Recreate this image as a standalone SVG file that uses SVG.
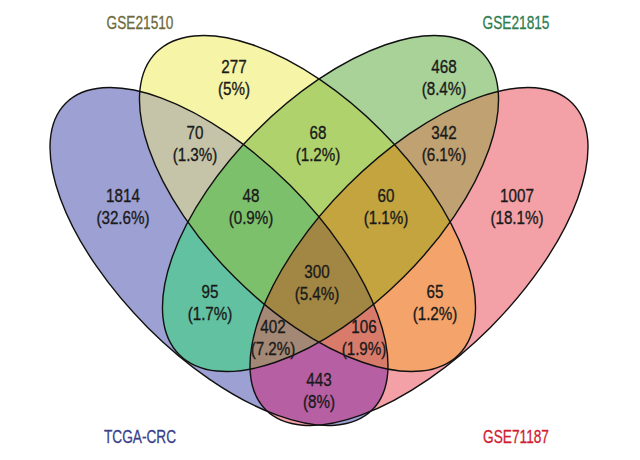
<svg xmlns="http://www.w3.org/2000/svg" xmlns:xlink="http://www.w3.org/1999/xlink" width="640" height="460" viewBox="0 0 640 460">
<defs>
<ellipse id="eA" cx="219" cy="256.5" rx="216.8" ry="100.6" transform="rotate(45 219 256.5)"/>
<ellipse id="eB" cx="307.5" cy="203.5" rx="213.8" ry="103.7" transform="rotate(45 307.5 203.5)"/>
<ellipse id="eC" cx="330.5" cy="203.5" rx="213.8" ry="103.7" transform="rotate(-45 330.5 203.5)"/>
<ellipse id="eD" cx="419" cy="256.5" rx="216.8" ry="100.6" transform="rotate(-45 419 256.5)"/>
<clipPath id="cA"><use xlink:href="#eA"/></clipPath>
<clipPath id="cB"><use xlink:href="#eB"/></clipPath>
<clipPath id="cC"><use xlink:href="#eC"/></clipPath>
<clipPath id="cD"><use xlink:href="#eD"/></clipPath>
</defs>
<style>
.outline{fill:none;stroke:#111;stroke-width:1.4}
.num{font-family:"Liberation Sans",Arial,sans-serif;font-size:19px;fill:#1a1a1a;stroke:#1a1a1a;stroke-width:0.35;text-anchor:middle}
.title{font-family:"Liberation Sans",Arial,sans-serif;font-size:19px;text-anchor:middle;stroke-width:0.3}
</style>
<rect width="640" height="460" fill="#fff"/>
<g id="regions">
<use xlink:href="#eA" fill="#9DA0D2"/>
<use xlink:href="#eB" fill="#F6F4A6"/>
<use xlink:href="#eC" fill="#A8D298"/>
<use xlink:href="#eD" fill="#F3A0A6"/>
<g clip-path="url(#cA)"><use xlink:href="#eB" fill="#C6C4A8"/></g>
<g clip-path="url(#cA)"><use xlink:href="#eC" fill="#62C1A1"/></g>
<g clip-path="url(#cA)"><use xlink:href="#eD" fill="#B65FA3"/></g>
<g clip-path="url(#cB)"><use xlink:href="#eC" fill="#AFD26C"/></g>
<g clip-path="url(#cB)"><use xlink:href="#eD" fill="#F4A36A"/></g>
<g clip-path="url(#cC)"><use xlink:href="#eD" fill="#BFA172"/></g>
<g clip-path="url(#cA)"><g clip-path="url(#cB)"><use xlink:href="#eC" fill="#7DC06C"/></g></g>
<g clip-path="url(#cA)"><g clip-path="url(#cB)"><use xlink:href="#eD" fill="#D97B6B"/></g></g>
<g clip-path="url(#cA)"><g clip-path="url(#cC)"><use xlink:href="#eD" fill="#A38875"/></g></g>
<g clip-path="url(#cB)"><g clip-path="url(#cC)"><use xlink:href="#eD" fill="#C3A43F"/></g></g>
<g clip-path="url(#cA)"><g clip-path="url(#cB)"><g clip-path="url(#cC)"><use xlink:href="#eD" fill="#A28643"/></g></g></g>
</g>
<g id="set-TCGA-CRC"><use xlink:href="#eA" class="outline"/>
<g transform="translate(140 0) scale(0.72 1)"><text class="title" x="0" y="443" fill="#3A3F8A" stroke="#3A3F8A">TCGA-CRC</text></g></g>
<g id="set-GSE21510"><use xlink:href="#eB" class="outline"/>
<g transform="translate(140 0) scale(0.72 1)"><text class="title" x="0" y="29" fill="#6E6A3A" stroke="#6E6A3A">GSE21510</text></g></g>
<g id="set-GSE21815"><use xlink:href="#eC" class="outline"/>
<g transform="translate(516 0) scale(0.72 1)"><text class="title" x="0" y="29" fill="#2E7D4F" stroke="#2E7D4F">GSE21815</text></g></g>
<g id="set-GSE71187"><use xlink:href="#eD" class="outline"/>
<g transform="translate(516 0) scale(0.72 1)"><text class="title" x="0" y="443" fill="#D0202F" stroke="#D0202F">GSE71187</text></g></g>
<g id="labels">
<g transform="translate(234 0) scale(0.8 1)"><text class="num" x="0" y="73">277</text><text class="num" x="0" y="95">(5%)</text></g>
<g transform="translate(444 0) scale(0.8 1)"><text class="num" x="0" y="73">468</text><text class="num" x="0" y="95">(8.4%)</text></g>
<g transform="translate(195 0) scale(0.8 1)"><text class="num" x="0" y="139">70</text><text class="num" x="0" y="161">(1.3%)</text></g>
<g transform="translate(318 0) scale(0.8 1)"><text class="num" x="0" y="139">68</text><text class="num" x="0" y="161">(1.2%)</text></g>
<g transform="translate(444 0) scale(0.8 1)"><text class="num" x="0" y="139">342</text><text class="num" x="0" y="161">(6.1%)</text></g>
<g transform="translate(123 0) scale(0.8 1)"><text class="num" x="0" y="202">1814</text><text class="num" x="0" y="224">(32.6%)</text></g>
<g transform="translate(251 0) scale(0.8 1)"><text class="num" x="0" y="202">48</text><text class="num" x="0" y="224">(0.9%)</text></g>
<g transform="translate(386 0) scale(0.8 1)"><text class="num" x="0" y="202">60</text><text class="num" x="0" y="224">(1.1%)</text></g>
<g transform="translate(517 0) scale(0.8 1)"><text class="num" x="0" y="202">1007</text><text class="num" x="0" y="224">(18.1%)</text></g>
<g transform="translate(317 0) scale(0.8 1)"><text class="num" x="0" y="278">300</text><text class="num" x="0" y="300">(5.4%)</text></g>
<g transform="translate(210 0) scale(0.8 1)"><text class="num" x="0" y="298">95</text><text class="num" x="0" y="320">(1.7%)</text></g>
<g transform="translate(435 0) scale(0.8 1)"><text class="num" x="0" y="298">65</text><text class="num" x="0" y="320">(1.2%)</text></g>
<g transform="translate(273 0) scale(0.8 1)"><text class="num" x="0" y="333">402</text><text class="num" x="0" y="355">(7.2%)</text></g>
<g transform="translate(364 0) scale(0.8 1)"><text class="num" x="0" y="333">106</text><text class="num" x="0" y="355">(1.9%)</text></g>
<g transform="translate(319 0) scale(0.8 1)"><text class="num" x="0" y="386">443</text><text class="num" x="0" y="408">(8%)</text></g>
</g>
</svg>
